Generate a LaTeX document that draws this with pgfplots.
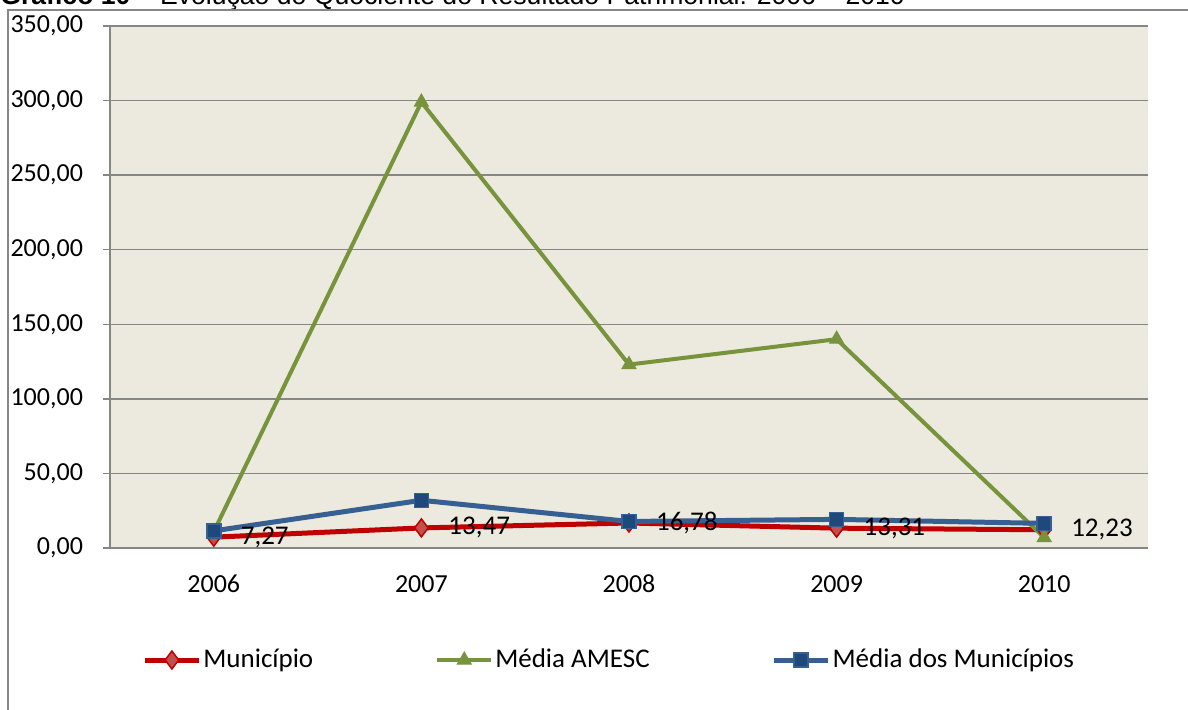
\documentclass[border=0pt]{standalone}
\usepackage{pgfplots}
\pgfplotsset{compat=1.18}
\usepackage{fontspec}
\setmainfont{Carlito}
\newfontfamily\arial{Liberation Sans}
\definecolor{bgc}{HTML}{ECE9DF}
\definecolor{gridc}{HTML}{868686}
\definecolor{redl}{HTML}{C00000}
\definecolor{redm}{HTML}{C0504D}
\definecolor{greenl}{HTML}{77933C}
\definecolor{bluel}{HTML}{376092}
\definecolor{bluem}{HTML}{1F497D}
\begin{document}
\begin{tikzpicture}[x=1pt,y=1pt]
\clip (0,0) rectangle (594,-354.5);
\node[anchor=base west, inner sep=0pt, font=\arial\fontsize{13.3}{15}\selectfont] at (0,-2.4) {\textbf{Gráfico 10} – Evolução do Quociente do Resultado Patrimonial: 2006 – 2010};
\draw[gridc, line width=0.75pt] (4,-360) -- (4,-5) -- (600,-5);
\begin{axis}[
  at={(55pt,-274pt)}, anchor=south west,
  width=519pt, height=261pt, scale only axis,
  xmin=-0.5, xmax=4.5, ymin=0, ymax=350,
  xtick={0,1,2,3,4}, xticklabels={2006,2007,2008,2009,2010},
  ytick={0,50,...,350},
  axis background/.style={fill=bgc},
  axis x line*=bottom, axis y line*=left,
  axis line style={gridc, line width=0.9pt},
  ymajorgrids, grid style={gridc, line width=0.75pt},
  tick align=outside, major tick length=3.5pt,
  ytick style={gridc, line width=0.75pt}, xtick style={draw=none},
  /pgf/number format/assume math mode=true,
  yticklabel style={xshift=-6.5pt, /pgf/number format/.cd, fixed, fixed zerofill, precision=2, use comma},
  tick label style={font=\fontsize{13}{15}\selectfont, black},
  xticklabel style={text height=9pt, text depth=0pt, yshift=-6pt},
  legend style={at={(0,0)}, anchor=west, xshift=16pt, yshift=-56pt, draw=none, fill=none,
    inner sep=0pt, nodes={inner xsep=1pt},
    font=\fontsize{13.5}{15}\selectfont,
    /tikz/every even column/.append style={column sep=60pt}},
  legend columns=3, legend cell align=left,
  legend image code/.code={\draw[mark repeat=2,mark phase=2,#1] plot coordinates {(0pt,0pt)(13.5pt,0pt)(27pt,0pt)};},
]
\addplot[redl, line width=2.5pt, mark=diamond*, mark size=4.5pt, mark options={fill=redm, draw=redl, line width=0.75pt}]
  coordinates {(0,7.27)(1,13.47)(2,16.78)(3,13.31)(4,12.23)};
\addlegendentry{Município}
\addplot[greenl, line width=2pt, mark=triangle*, mark size=4pt, mark options={fill=greenl, line width=0.5pt}]
  coordinates {(0,11)(1,299)(2,123)(3,140)(4,7)};
\addlegendentry{Média AMESC}
\addplot[bluel, line width=2.5pt, mark=square*, mark size=3.5pt, mark options={fill=bluem, draw=bluel, line width=0.75pt}]
  coordinates {(0,11.5)(1,32)(2,17.8)(3,19.2)(4,16.5)};
\addlegendentry{Média dos Municípios}
\addplot[draw=none, forget plot, nodes near coords={\pgfmathprintnumber[fixed,fixed zerofill,precision=2,use comma]{\pgfplotspointmeta}},
  every node near coord/.style={anchor=west, xshift=10pt, yshift=0pt, font=\fontsize{13.5}{15}\selectfont, text=black}]
  coordinates {(0,7.27)(1,13.47)(2,16.78)(3,13.31)(4,12.23)};
\end{axis}
\end{tikzpicture}
\end{document}
